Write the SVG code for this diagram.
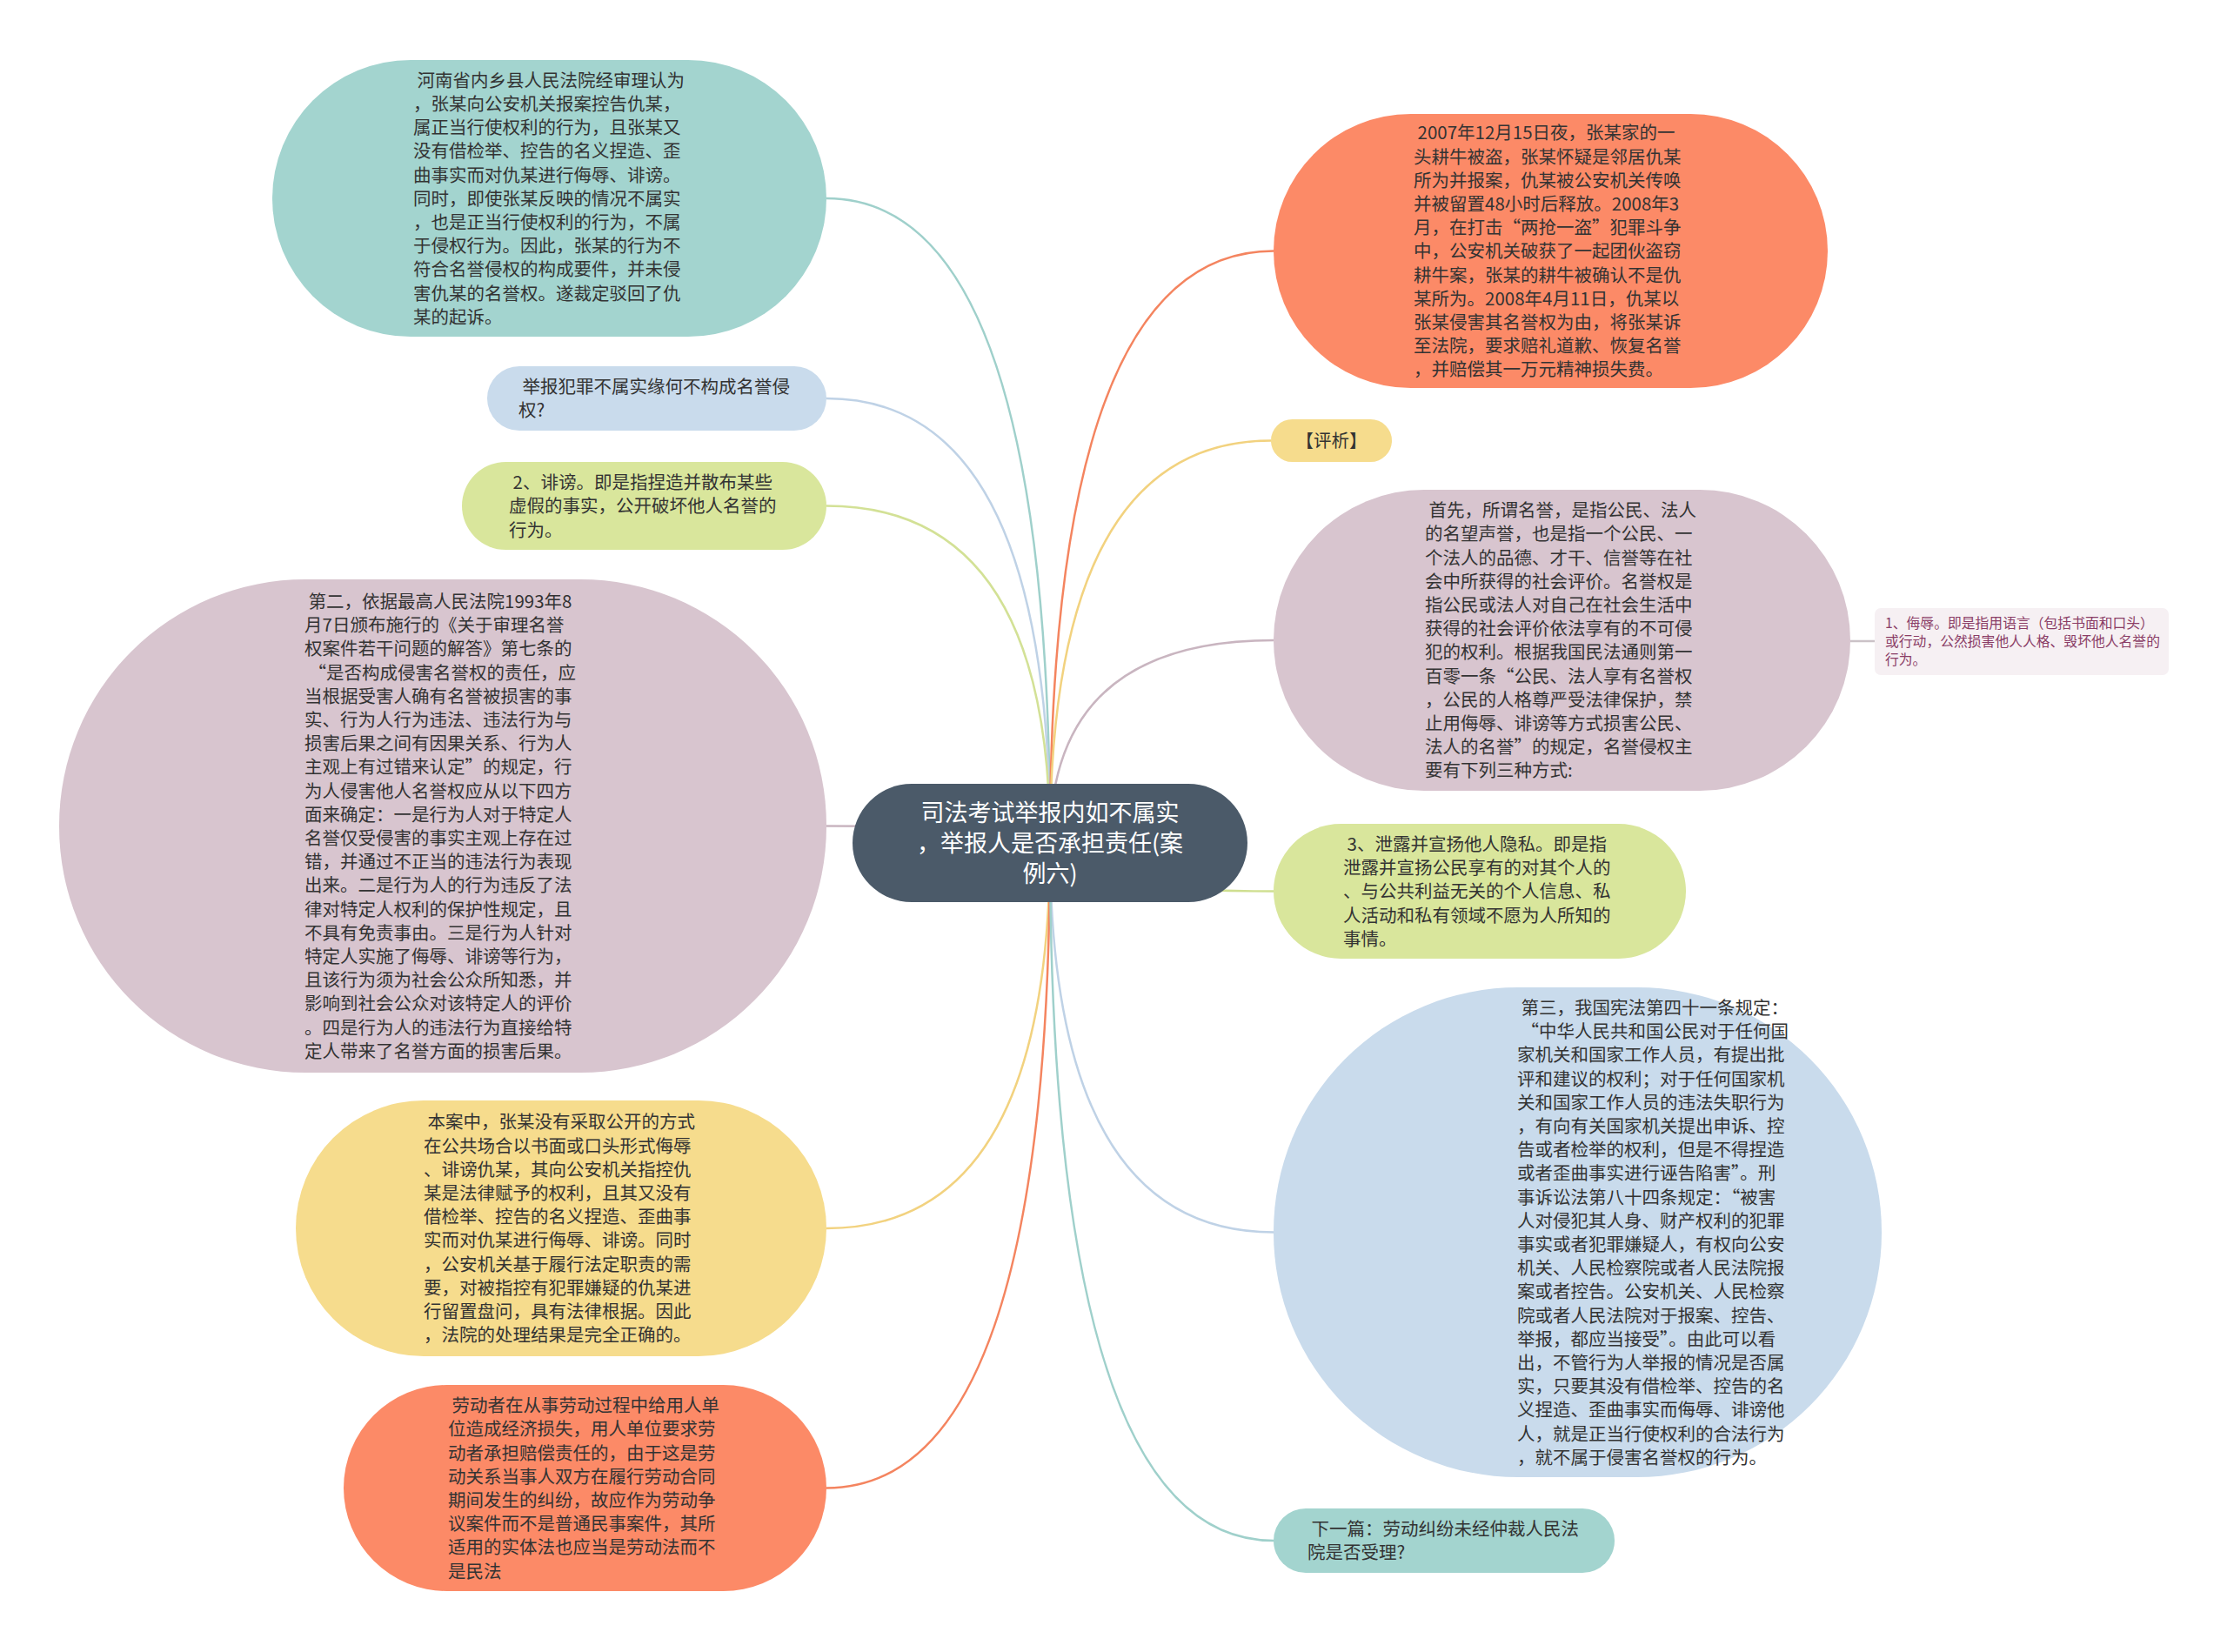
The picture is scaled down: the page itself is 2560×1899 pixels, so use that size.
<svg xmlns="http://www.w3.org/2000/svg" width="2560" height="1899" viewBox="0 0 2560 1899">
<style>
.t{font-family:"Noto Sans CJK SC","Noto Sans",sans-serif;font-size:20.5px;fill:#333;white-space:pre}
.ct{font-family:"Noto Sans CJK SC","Noto Sans",sans-serif;font-size:27px;fill:#fff;text-anchor:middle}
.sm{font-family:"Noto Sans CJK SC","Noto Sans",sans-serif;font-size:15.8px;fill:#8a3d66}
.c{fill:none;stroke-width:2.5}
.teal{fill:#a3d4cf}.blue{fill:#c9dbec}.green{fill:#d9e69c}.pink{fill:#d8c5cf}.yellow{fill:#f6dc8d}.orange{fill:#fc8a67}
</style>
<rect width="2560" height="1899" fill="#ffffff"/>
<g id="connectors">
<path class="c" stroke="#9fd0cb" d="M1207 969 Q1207 228 950 228"/>
<path class="c" stroke="#bfd2e6" d="M1207 969 Q1207 458 950 458"/>
<path class="c" stroke="#d3e196" d="M1207 969 Q1207 581.5 950 581.5"/>
<path class="c" stroke="#c9b5c0" d="M1207 969 Q1207 949.5 950 949.5"/>
<path class="c" stroke="#f2d27f" d="M1207 969 Q1207 1412 950 1412"/>
<path class="c" stroke="#f4845f" d="M1207 969 Q1207 1710.5 950 1710.5"/>
<path class="c" stroke="#f4845f" d="M1207 969 Q1207 288.5 1464 288.5"/>
<path class="c" stroke="#f2d27f" d="M1207 969 Q1207 506.5 1461 506.5"/>
<path class="c" stroke="#c9b5c0" d="M1207 969 Q1207 736 1464 736"/>
<path class="c" stroke="#cfdf90" d="M1207 969 Q1207 1024.5 1464 1024.5"/>
<path class="c" stroke="#bfd2e6" d="M1207 969 Q1207 1416.5 1464 1416.5"/>
<path class="c" stroke="#9fd0cb" d="M1207 969 Q1207 1771 1464 1771"/>
<path class="c" stroke="#cbc2c7" d="M2127 737 L2155 737"/>
</g>
<g id="node-center">
<rect x="980" y="901" width="454" height="136" rx="68" fill="#4b5a69"/>
<text class="ct" x="1207" y="944.3">司法考试举报内如不属实</text>
<text class="ct" x="1207" y="979.3">，举报人是否承担责任(案</text>
<text class="ct" x="1207" y="1014.3">例六)</text>
</g>
<g id="node-a">
<rect class="teal" x="313" y="69" width="637" height="318" rx="159"/>
<text class="t" x="475" y="99.8"> 河南省内乡县人民法院经审理认为</text>
<text class="t" x="475" y="127">，张某向公安机关报案控告仇某，</text>
<text class="t" x="475" y="154.2">属正当行使权利的行为，且张某又</text>
<text class="t" x="475" y="181.4">没有借检举、控告的名义捏造、歪</text>
<text class="t" x="475" y="208.6">曲事实而对仇某进行侮辱、诽谤。</text>
<text class="t" x="475" y="235.8">同时，即使张某反映的情况不属实</text>
<text class="t" x="475" y="263">，也是正当行使权利的行为，不属</text>
<text class="t" x="475" y="290.2">于侵权行为。因此，张某的行为不</text>
<text class="t" x="475" y="317.4">符合名誉侵权的构成要件，并未侵</text>
<text class="t" x="475" y="344.6">害仇某的名誉权。遂裁定驳回了仇</text>
<text class="t" x="475" y="371.8">某的起诉。</text>
</g>
<g id="node-b">
<rect class="blue" x="560" y="421" width="390" height="74" rx="37"/>
<text class="t" x="596" y="452.2"> 举报犯罪不属实缘何不构成名誉侵</text>
<text class="t" x="596" y="479.4">权?</text>
</g>
<g id="node-c">
<rect class="green" x="531" y="531" width="419" height="101" rx="50.5"/>
<text class="t" x="585" y="562.1"> 2、诽谤。即是指捏造并散布某些</text>
<text class="t" x="585" y="589.3">虚假的事实，公开破坏他人名誉的</text>
<text class="t" x="585" y="616.5">行为。</text>
</g>
<g id="node-d">
<rect class="pink" x="68" y="666" width="882" height="567" rx="283"/>
<text class="t" x="350" y="698.9"> 第二，依据最高人民法院1993年8</text>
<text class="t" x="350" y="726.1">月7日颁布施行的《关于审理名誉</text>
<text class="t" x="350" y="753.3">权案件若干问题的解答》第七条的</text>
<text class="t" x="350" y="780.5"> “是否构成侵害名誉权的责任，应</text>
<text class="t" x="350" y="807.7">当根据受害人确有名誉被损害的事</text>
<text class="t" x="350" y="834.9">实、行为人行为违法、违法行为与</text>
<text class="t" x="350" y="862.1">损害后果之间有因果关系、行为人</text>
<text class="t" x="350" y="889.3">主观上有过错来认定”的规定，行</text>
<text class="t" x="350" y="916.5">为人侵害他人名誉权应从以下四方</text>
<text class="t" x="350" y="943.7">面来确定：一是行为人对于特定人</text>
<text class="t" x="350" y="970.9">名誉仅受侵害的事实主观上存在过</text>
<text class="t" x="350" y="998.1">错，并通过不正当的违法行为表现</text>
<text class="t" x="350" y="1025.3">出来。二是行为人的行为违反了法</text>
<text class="t" x="350" y="1052.5">律对特定人权利的保护性规定，且</text>
<text class="t" x="350" y="1079.7">不具有免责事由。三是行为人针对</text>
<text class="t" x="350" y="1106.9">特定人实施了侮辱、诽谤等行为，</text>
<text class="t" x="350" y="1134.1">且该行为须为社会公众所知悉，并</text>
<text class="t" x="350" y="1161.3">影响到社会公众对该特定人的评价</text>
<text class="t" x="350" y="1188.5">。四是行为人的违法行为直接给特</text>
<text class="t" x="350" y="1215.7">定人带来了名誉方面的损害后果。</text>
</g>
<g id="node-e">
<rect class="yellow" x="340" y="1265" width="610" height="294" rx="147"/>
<text class="t" x="487" y="1297.4"> 本案中，张某没有采取公开的方式</text>
<text class="t" x="487" y="1324.6">在公共场合以书面或口头形式侮辱</text>
<text class="t" x="487" y="1351.8">、诽谤仇某，其向公安机关指控仇</text>
<text class="t" x="487" y="1379">某是法律赋予的权利，且其又没有</text>
<text class="t" x="487" y="1406.2">借检举、控告的名义捏造、歪曲事</text>
<text class="t" x="487" y="1433.4">实而对仇某进行侮辱、诽谤。同时</text>
<text class="t" x="487" y="1460.6">，公安机关基于履行法定职责的需</text>
<text class="t" x="487" y="1487.8">要，对被指控有犯罪嫌疑的仇某进</text>
<text class="t" x="487" y="1515">行留置盘问，具有法律根据。因此</text>
<text class="t" x="487" y="1542.2">，法院的处理结果是完全正确的。</text>
</g>
<g id="node-f">
<rect class="orange" x="395" y="1592" width="555" height="237" rx="118.5"/>
<text class="t" x="515" y="1623.1"> 劳动者在从事劳动过程中给用人单</text>
<text class="t" x="515" y="1650.3">位造成经济损失，用人单位要求劳</text>
<text class="t" x="515" y="1677.5">动者承担赔偿责任的，由于这是劳</text>
<text class="t" x="515" y="1704.7">动关系当事人双方在履行劳动合同</text>
<text class="t" x="515" y="1731.9">期间发生的纠纷，故应作为劳动争</text>
<text class="t" x="515" y="1759.1">议案件而不是普通民事案件，其所</text>
<text class="t" x="515" y="1786.3">适用的实体法也应当是劳动法而不</text>
<text class="t" x="515" y="1813.5">是民法</text>
</g>
<g id="node-g">
<rect class="orange" x="1464" y="131" width="637" height="315" rx="157.5"/>
<text class="t" x="1625" y="160.3"> 2007年12月15日夜，张某家的一</text>
<text class="t" x="1625" y="187.5">头耕牛被盗，张某怀疑是邻居仇某</text>
<text class="t" x="1625" y="214.7">所为并报案，仇某被公安机关传唤</text>
<text class="t" x="1625" y="241.9">并被留置48小时后释放。2008年3</text>
<text class="t" x="1625" y="269.1">月，在打击“两抢一盗”犯罪斗争</text>
<text class="t" x="1625" y="296.3">中，公安机关破获了一起团伙盗窃</text>
<text class="t" x="1625" y="323.5">耕牛案，张某的耕牛被确认不是仇</text>
<text class="t" x="1625" y="350.7">某所为。2008年4月11日，仇某以</text>
<text class="t" x="1625" y="377.9">张某侵害其名誉权为由，将张某诉</text>
<text class="t" x="1625" y="405.1">至法院，要求赔礼道歉、恢复名誉</text>
<text class="t" x="1625" y="432.3">，并赔偿其一万元精神损失费。</text>
</g>
<g id="node-h">
<rect class="yellow" x="1461" y="482" width="139" height="49" rx="24.5"/>
<text class="t" x="1530.5" y="514.3" text-anchor="middle">【评析】</text>
</g>
<g id="node-i">
<rect class="pink" x="1464" y="563" width="663" height="346" rx="173"/>
<text class="t" x="1638" y="594.2"> 首先，所谓名誉，是指公民、法人</text>
<text class="t" x="1638" y="621.4">的名望声誉，也是指一个公民、一</text>
<text class="t" x="1638" y="648.6">个法人的品德、才干、信誉等在社</text>
<text class="t" x="1638" y="675.8">会中所获得的社会评价。名誉权是</text>
<text class="t" x="1638" y="703">指公民或法人对自己在社会生活中</text>
<text class="t" x="1638" y="730.2">获得的社会评价依法享有的不可侵</text>
<text class="t" x="1638" y="757.4">犯的权利。根据我国民法通则第一</text>
<text class="t" x="1638" y="784.6">百零一条“公民、法人享有名誉权</text>
<text class="t" x="1638" y="811.8">，公民的人格尊严受法律保护，禁</text>
<text class="t" x="1638" y="839">止用侮辱、诽谤等方式损害公民、</text>
<text class="t" x="1638" y="866.2">法人的名誉”的规定，名誉侵权主</text>
<text class="t" x="1638" y="893.4">要有下列三种方式:</text>
</g>
<g id="node-j">
<rect x="2155" y="699" width="338" height="77" rx="7" fill="#f6f0f3"/>
<text class="sm" x="2167" y="722.2">1、侮辱。即是指用语言（包括书面和口头）</text>
<text class="sm" x="2167" y="743.2">或行动，公然损害他人人格、毁坏他人名誉的</text>
<text class="sm" x="2167" y="764.2">行为。</text>
</g>
<g id="node-k">
<rect class="green" x="1464" y="947" width="474" height="155" rx="77.5"/>
<text class="t" x="1544" y="977.9"> 3、泄露并宣扬他人隐私。即是指</text>
<text class="t" x="1544" y="1005.1">泄露并宣扬公民享有的对其个人的</text>
<text class="t" x="1544" y="1032.3">、与公共利益无关的个人信息、私</text>
<text class="t" x="1544" y="1059.5">人活动和私有领域不愿为人所知的</text>
<text class="t" x="1544" y="1086.7">事情。</text>
</g>
<g id="node-l">
<rect class="blue" x="1464" y="1135" width="699" height="563" rx="281"/>
<text class="t" x="1744" y="1165.9"> 第三，我国宪法第四十一条规定：</text>
<text class="t" x="1744" y="1193.1"> “中华人民共和国公民对于任何国</text>
<text class="t" x="1744" y="1220.3">家机关和国家工作人员，有提出批</text>
<text class="t" x="1744" y="1247.5">评和建议的权利；对于任何国家机</text>
<text class="t" x="1744" y="1274.7">关和国家工作人员的违法失职行为</text>
<text class="t" x="1744" y="1301.9">，有向有关国家机关提出申诉、控</text>
<text class="t" x="1744" y="1329.1">告或者检举的权利，但是不得捏造</text>
<text class="t" x="1744" y="1356.3">或者歪曲事实进行诬告陷害”。刑</text>
<text class="t" x="1744" y="1383.5">事诉讼法第八十四条规定：“被害</text>
<text class="t" x="1744" y="1410.7">人对侵犯其人身、财产权利的犯罪</text>
<text class="t" x="1744" y="1437.9">事实或者犯罪嫌疑人，有权向公安</text>
<text class="t" x="1744" y="1465.1">机关、人民检察院或者人民法院报</text>
<text class="t" x="1744" y="1492.3">案或者控告。公安机关、人民检察</text>
<text class="t" x="1744" y="1519.5">院或者人民法院对于报案、控告、</text>
<text class="t" x="1744" y="1546.7">举报，都应当接受”。由此可以看</text>
<text class="t" x="1744" y="1573.9">出，不管行为人举报的情况是否属</text>
<text class="t" x="1744" y="1601.1">实，只要其没有借检举、控告的名</text>
<text class="t" x="1744" y="1628.3">义捏造、歪曲事实而侮辱、诽谤他</text>
<text class="t" x="1744" y="1655.5">人，就是正当行使权利的合法行为</text>
<text class="t" x="1744" y="1682.7">，就不属于侵害名誉权的行为。</text>
</g>
<g id="node-m">
<rect class="teal" x="1464" y="1734" width="392" height="74" rx="37"/>
<text class="t" x="1503" y="1765.2"> 下一篇：劳动纠纷未经仲裁人民法</text>
<text class="t" x="1503" y="1792.4">院是否受理?</text>
</g>
</svg>
